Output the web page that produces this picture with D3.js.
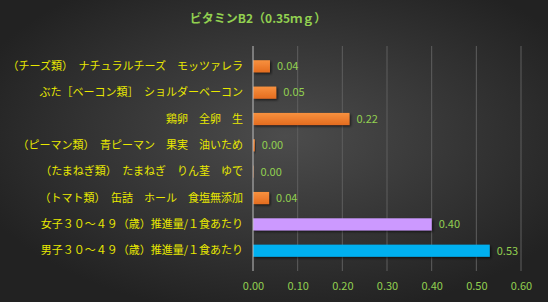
<!DOCTYPE html>
<html>
<head>
  <meta charset="utf-8">
  <script src="https://d3js.org/d3.v7.min.js"></script>
  <style>
    body { margin: 0; background: #2a2a2a; }
    svg { display: block; }
    text { font-family: "Noto Sans CJK JP", "Noto Sans", sans-serif; }
  </style>
</head>
<body>
  <svg width="548" height="302"></svg>
  <script>
    // data
    const categories = [
      "（チーズ類）　ナチュラルチーズ　モッツァレラ",
      "ぶた［ベーコン類］　ショルダーベーコン",
      "鶏卵　全卵　生",
      "（ピーマン類）　青ピーマン　果実　油いため",
      "（たまねぎ類）　たまねぎ　りん茎　ゆで",
      "（トマト類）　缶詰　ホール　食塩無添加",
      "女子３０～４９（歳）推進量/１食あたり",
      "男子３０～４９（歳）推進量/１食あたり"
    ];
    const values = [0.038, 0.052, 0.216, 0.004, 0.001, 0.036, 0.40, 0.53];
    const barColors = ["orange", "orange", "orange", "orange", "orange", "orange", "#cc99ff", "#00b0f0"];
    const ticks = [0, 0.1, 0.2, 0.3, 0.4, 0.5, 0.6];
    const title = "ビタミンB2（0.35ｍｇ）";

    const svg = d3.select("svg");
    const W = 548, H = 302;
    const defs = svg.append("defs");

    // background
    const bg = defs.append("radialGradient").attr("id", "bg")
      .attr("cx", "52%").attr("cy", "45%").attr("r", "60%");
    bg.append("stop").attr("offset", "0%").attr("stop-color", "#4c4c4c");
    bg.append("stop").attr("offset", "100%").attr("stop-color", "#222");
    svg.append("rect").attr("width", W).attr("height", H).attr("fill", "url(#bg)");

    const og = defs.append("linearGradient").attr("id", "orange")
      .attr("x1", 0).attr("y1", 0).attr("x2", 0).attr("y2", 1);
    og.append("stop").attr("offset", "0%").attr("stop-color", "#f8913f");
    og.append("stop").attr("offset", "100%").attr("stop-color", "#e46c1f");

    const shadow = defs.append("filter").attr("id", "shadow")
      .attr("x", "-5%").attr("y", "-20%").attr("width", "120%").attr("height", "160%");
    shadow.append("feDropShadow").attr("dx", 1.5).attr("dy", 1.5)
      .attr("stdDeviation", 1).attr("flood-color", "#000").attr("flood-opacity", 0.6);

    const x = d3.scaleLinear().domain([0, 0.6]).range([253, 521]);
    const y = d3.scaleBand().domain(categories).range([46, 271]).padding(0.54);

    // gridlines
    svg.append("g").selectAll("line").data(ticks.slice(1)).join("line")
      .attr("x1", d => x(d)).attr("x2", d => x(d))
      .attr("y1", 46).attr("y2", 271)
      .attr("stroke", "#5e5e5e").attr("stroke-width", 1);

    // x tick labels
    const xAxis = d3.axisBottom(x).tickValues(ticks).tickFormat(d3.format(".2f")).tickSize(0).tickPadding(0);
    const ax = svg.append("g").attr("transform", "translate(0,282)").call(xAxis);
    ax.select(".domain").remove();
    ax.selectAll("text").attr("fill", "#92d050").attr("font-size", 11)
      .attr("font-family", "'Noto Sans', sans-serif");

    // bars
    svg.append("g").selectAll("rect").data(values).join("rect")
      .attr("x", x(0))
      .attr("y", (d, i) => y(categories[i]))
      .attr("width", d => x(d) - x(0))
      .attr("height", y.bandwidth())
      .attr("fill", (d, i) => barColors[i] === "orange" ? "url(#orange)" : barColors[i])
      .attr("filter", "url(#shadow)");

    // y axis line
    svg.append("line").attr("x1", x(0)).attr("x2", x(0)).attr("y1", 46).attr("y2", 271)
      .attr("stroke", "#bfbfbf").attr("stroke-width", 1);

    // category labels
    const yAxis = d3.axisLeft(y).tickSize(0).tickPadding(10);
    const ay = svg.append("g").attr("transform", `translate(${x(0)},0)`).call(yAxis);
    ay.select(".domain").remove();
    ay.selectAll("text").attr("fill", "#e8e800").attr("font-size", 11)
      .attr("font-family", "'Noto Sans CJK JP', sans-serif");

    // value labels
    svg.append("g").selectAll("text").data(values).join("text")
      .attr("x", d => x(d) + 7)
      .attr("y", (d, i) => y(categories[i]) + y.bandwidth() / 2)
      .attr("dy", "0.35em")
      .attr("fill", "#92d050").attr("font-size", 11)
      .attr("font-family", "'Noto Sans', sans-serif")
      .text(d => d3.format(".2f")(d));

    // title
    svg.append("text").attr("x", 258).attr("y", 23)
      .attr("text-anchor", "middle")
      .attr("fill", "#92d050").attr("font-size", 12).attr("font-weight", "bold")
      .text(title);
  </script>
</body>
</html>
